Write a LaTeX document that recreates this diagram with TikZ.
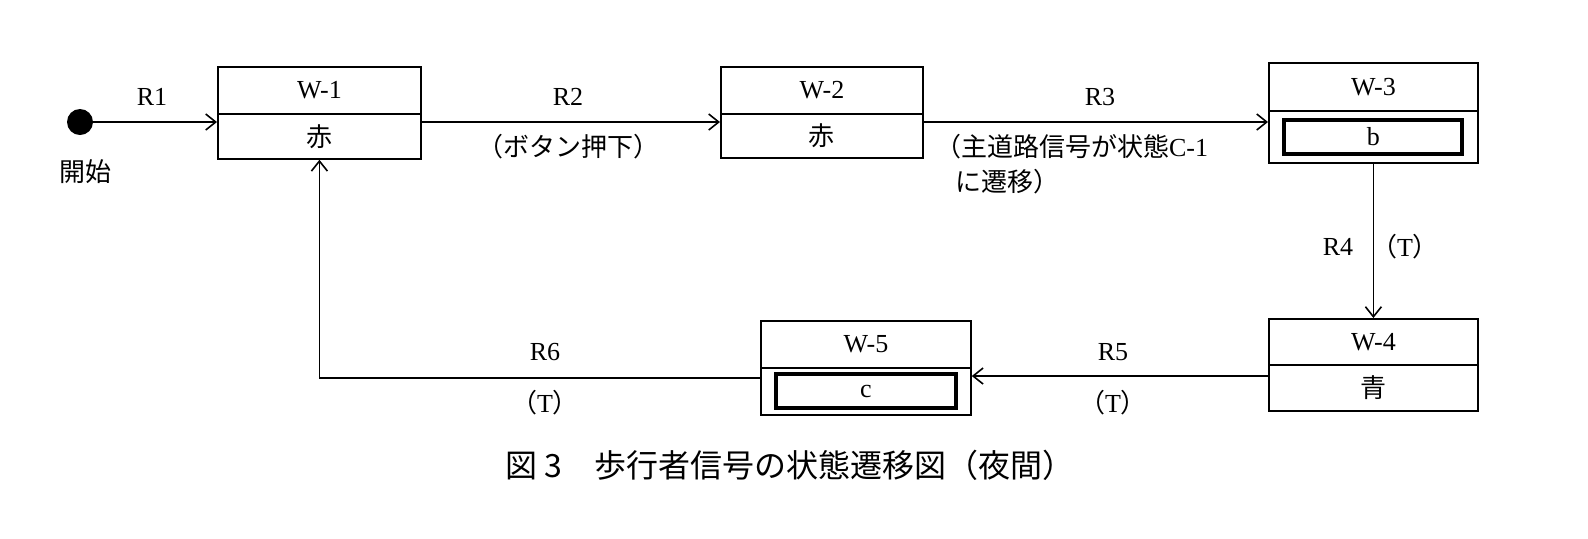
\documentclass[tikz,border=0pt]{standalone}
\usepackage{fontspec}
\setmainfont{Liberation Serif}
\newfontfamily\jp{Noto Sans CJK JP}
\usetikzlibrary{arrows.meta}
\begin{document}
\begin{tikzpicture}[x=0.5pt,y=-0.5pt,
  box/.style={draw,line width=0.9pt},
  lab/.style={font=\fontsize{13}{15}\selectfont},
  arr/.style={-{Straight Barb[length=5pt,width=8pt]},line width=0.8pt},
  thick box/.style={draw,line width=2pt}]
\useasboundingbox (0,0) rectangle (1588,538);
% boxes
\node[box,minimum width=101.5pt,minimum height=23.5pt,anchor=north west,lab] (w1t) at (217,66) {W-1};
\node[box,minimum width=101.5pt,minimum height=22.5pt,anchor=north west,lab] (w1b) at (217,113) {\jp 赤};
\node[box,minimum width=101pt,minimum height=23.5pt,anchor=north west,lab] (w2t) at (720,66) {W-2};
\node[box,minimum width=101pt,minimum height=22pt,anchor=north west,lab] (w2b) at (720,113) {\jp 赤};
\node[box,minimum width=104.5pt,minimum height=24pt,anchor=north west,lab] (w3t) at (1268,62) {W-3};
\node[box,minimum width=104.5pt,minimum height=26pt,anchor=north west] (w3b) at (1268,110) {};
\node[thick box,minimum width=89pt,minimum height=17pt,lab] (w3i) at (w3b.center) {b};
\node[box,minimum width=104.5pt,minimum height=23pt,anchor=north west,lab] (w4t) at (1268,318) {W-4};
\node[box,minimum width=104.5pt,minimum height=23pt,anchor=north west,lab] (w4b) at (1268,364) {\jp 青};
\node[box,minimum width=105pt,minimum height=23.5pt,anchor=north west,lab] (w5t) at (760,320) {W-5};
\node[box,minimum width=105pt,minimum height=23.5pt,anchor=north west] (w5b) at (760,367) {};
\node[thick box,minimum width=90pt,minimum height=17pt,lab] (w5i) at (w5b.center) {c};
% start
\fill (80,122) circle (6.5pt);
\coordinate (st) at (80,122);
\node[lab] (kaishi) at (85,172) {\jp 開始};
% arrows
\draw[arr] (st) -- (w1t.west |- 0,122);
\draw[arr] (w1t.east |- 0,122) -- (w2t.west |- 0,122);
\draw[arr] (w2t.east |- 0,122) -- (w3t.west |- 0,122);
\draw[arr] (w3b.south) -- (w4t.north);
\draw[arr] (w4t.west |- 0,376) -- (w5t.east |- 0,376);
\draw[arr] (w5t.west |- 0,378) -| (w1b.south);
% labels
\node[lab] (r1) at (152,97) {R1};
\node[lab] (r2) at (568,97) {R2};
\node[lab] (r2b) at (568,147) {\jp （ボタン押下）};
\node[lab] (r3) at (1100,97) {R3};
\node[lab,anchor=west] (r3b) at (928,147) {\jp （主道路信号が状態\rmfamily C-1};
\node[lab,anchor=west] (r3c) at (948,182) {\jp に遷移）};
\node[lab] (r4) at (1338,247) {R4};
\node[lab] (r4b) at (1405,247) {\jp （\rmfamily T\jp ）};
\node[lab] (r5) at (1113,352) {R5};
\node[lab] (r5b) at (1113,403) {\jp （\rmfamily T\jp ）};
\node[lab] (r6) at (545,352) {R6};
\node[lab] (r6b) at (545,403) {\jp （\rmfamily T\jp ）};
\node[font=\fontsize{16}{18}\selectfont\jp] (cap) at (790,465) {図 3\quad 歩行者信号の状態遷移図（夜間）};
\end{tikzpicture}
\end{document}
